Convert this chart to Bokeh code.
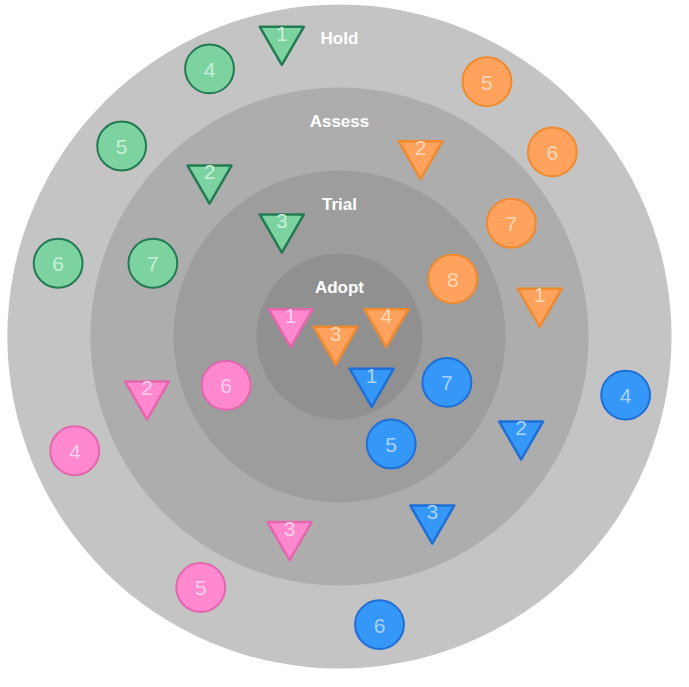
from bokeh.plotting import figure
from bokeh.models import ColumnDataSource, CDSView, IndexFilter
from bokeh.core.properties import value
from bokeh.embed import file_html
from bokeh.resources import INLINE

# rings (outer to inner)
ring_names = ["Hold", "Assess", "Trial", "Adopt"]
ring_radius = [340, 255, 170, 85]
ring_colors = ["#c4c4c4", "#adadad", "#9d9d9d", "#909090"]

# blips: quadrant, number, shape, position
blip_group = (["green"] * 7 + ["orange"] * 8 + ["pink"] * 6 + ["blue"] * 7)
blip_num = ["1", "4", "5", "2", "3", "6", "7",
            "5", "2", "6", "7", "8", "1", "4", "3",
            "1", "6", "2", "4", "3", "5",
            "1", "7", "4", "2", "5", "3", "6"]
blip_shape = ["t", "c", "c", "t", "t", "c", "c",
              "c", "t", "c", "c", "c", "t", "t", "t",
              "t", "c", "t", "c", "t", "c",
              "t", "c", "c", "t", "c", "t", "c"]
blip_x = [-59, -133, -223, -133, -59, -288, -191,
          151, 83, 218, 176, 116, 205, 48, -4,
          -50, -116, -197, -271, -51, -142,
          33, 110, 293, 186, 53, 95, 41]
blip_y = [306, 274, 195, 164, 114, 75, 75,
          261, 189, 189, 116, 59, 38, 17, -1,
          17, -50, -57, -117, -201, -257,
          -44, -47, -60, -98, -110, -184, -295]

fills = {"green": "#7dd3a0", "orange": "#ffa25e", "pink": "#ff88cf", "blue": "#3597f7"}
strokes = {"green": "#247a52", "orange": "#ef8a2e", "pink": "#e466ac", "blue": "#1f6fd6"}
texts = {"green": "#c8f0d8", "orange": "#ffd7b8", "pink": "#ffd0ec", "blue": "#a8d2ff"}

p = figure(width=673, height=671, x_range=(-347, 342), y_range=(-343, 344),
           output_backend="svg", toolbar_location=None, min_border=0)
p.axis.visible = False
p.grid.visible = False
p.outline_line_color = None
p.background_fill_color = "white"

for r, c in zip(ring_radius, ring_colors):
    p.circle(x=[0], y=[0], radius=r, fill_color=c, line_color=None)

p.text(x=[0] * 4, y=[r - 35 for r in ring_radius], text=ring_names,
       text_color="white", text_font=value("Liberation Sans"),
       text_font_style="bold", text_font_size="17px",
       text_align="center", text_baseline="middle")

src = ColumnDataSource(dict(
    x=blip_x, y=blip_y, num=blip_num, shape=blip_shape,
    fill=[fills[g] for g in blip_group],
    line=[strokes[g] for g in blip_group],
    tc=[texts[g] for g in blip_group],
    ty=[y - 1 if s == "c" else y + 4 for y, s in zip(blip_y, blip_shape)],
    my=[y if s == "c" else y - 2 for y, s in zip(blip_y, blip_shape)],
))
ci = [i for i, s in enumerate(blip_shape) if s == "c"]
ti = [i for i, s in enumerate(blip_shape) if s == "t"]
p.circle(x="x", y="y", radius=25, fill_color="fill", line_color="line",
         line_width=2, source=src, view=CDSView(filter=IndexFilter(ci)))
p.scatter(x="x", y="my", marker="inverted_triangle", size=44,
          fill_color="fill", line_color="line", line_width=2.5,
          line_join="round", source=src,
          view=CDSView(filter=IndexFilter(ti)))
p.text(x="x", y="ty", text="num", text_color="tc",
       text_font=value("Liberation Sans"), text_font_size="21px",
       text_align="center", text_baseline="middle", source=src)

open("out.html", "w").write(file_html(p, INLINE))
